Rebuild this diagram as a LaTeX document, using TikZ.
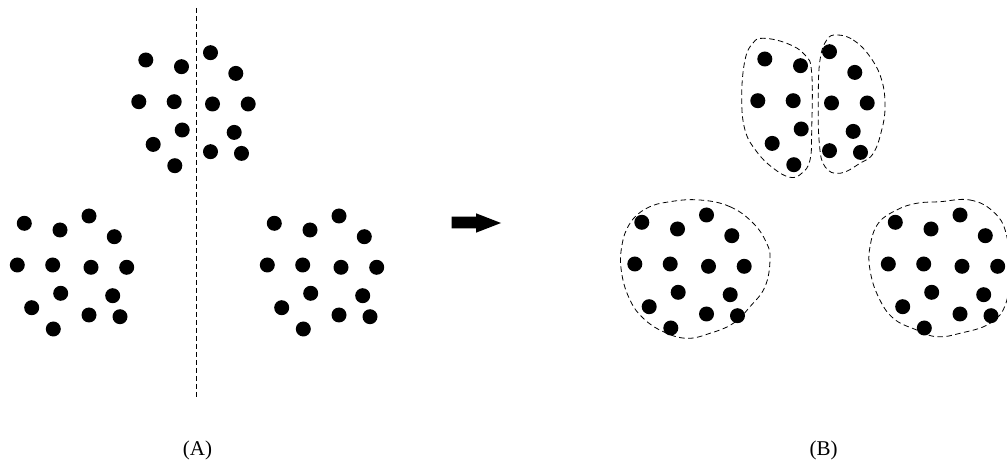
\documentclass[tikz,border=0pt]{standalone}
\usepackage{fontspec}
\setmainfont{Liberation Serif}

\begin{document}
\begin{tikzpicture}[x=1pt,y=-1pt]
\tikzset{
  dot/.style={circle,fill=black,inner sep=0pt,minimum size=15pt},
  hull/.style={line width=0.8pt,dash pattern=on 5.5pt off 3.5pt},
  cutline/.style={line width=0.8pt,dash pattern=on 5pt off 3pt},
  caption/.style={font=\fontsize{21}{24}\selectfont}
}
\useasboundingbox (0,0) rectangle (1007,462);
% the same cluster of 14 dots, six times
\foreach \cl/\dx/\dy in {at/121.5/-163.3, al/0/0, ar/250/0, bt/740.5/-164.3, bl/617.5/-1, br/871/-1}
  \foreach \px/\py [count=\i] in {24.3/223.3, 60/230, 89/216, 114.3/236.7, 17.3/265, 52.7/265, 91/267.3,
      126.7/267.3, 60.7/293.3, 112.7/295.7, 31.7/307.7, 89/315, 120/316.7, 53.3/329}
    \node[dot] (\cl\i) at ({\px+\dx},{\py+\dy}) {};
% (A): cut through the top cluster
\coordinate (cut_top) at (196,8);
\coordinate (cut_bot) at (196,398);
\draw[cutline] (cut_top) -- (cut_bot);
% arrow
\fill (451.7,216.7) -- (476,216.7) -- (476,213.3) -- (501,223) -- (476,232.7) -- (476,228.3) -- (451.7,228.3) -- cycle;
% (B): outlines of the clusters
\draw[hull] plot[smooth cycle,tension=0.7] coordinates {(763.3,38.3) (786.7,43.3) (805,55) (811.7,73.3) (811.7,130) (810,160)
  (801.7,173.3) (790,177.3) (773,168) (756.7,151.7) (745,130) (741.7,96.7) (745,60) (753,43)};
\draw[hull] plot[smooth cycle,tension=0.7] coordinates {(836.7,35) (853.3,40) (870,56.7) (881.7,80) (885,106.7) (881.7,130)
  (873.3,153.3) (860,163.3) (840,173.3) (825,166.7) (819.3,143.3) (818.3,96.7) (820,60) (826.7,40)};
\draw[hull] plot[smooth cycle,tension=0.7] coordinates {(700,200) (730,206.7) (753.3,223.3) (766.7,243.3) (770,260) (765,286.7)
  (750,306.7) (733.3,323.3) (710,333.3) (686.7,338.3) (663.3,331.7) (643.3,318.3) (630,300) (621.7,273.3)
  (621.7,246.7) (630,223.3) (646.7,208.3) (670,201.7)};
\draw[hull] plot[smooth cycle,tension=0.7] coordinates {(940,201.7) (970,200) (993.3,211.7) (1006,233) (1009,268) (1006,303)
  (990,323.3) (960,333.3) (936.7,336.7) (916.7,330) (893.3,318.3) (878.3,296.7) (870,270) (870,246.7)
  (878.3,223.3) (896.7,210) (916.7,203.3)};
% labels
\node[caption] (capA) at (197.5,450) {(A)};
\node[caption] (capB) at (823.5,450) {(B)};
\end{tikzpicture}
\end{document}
